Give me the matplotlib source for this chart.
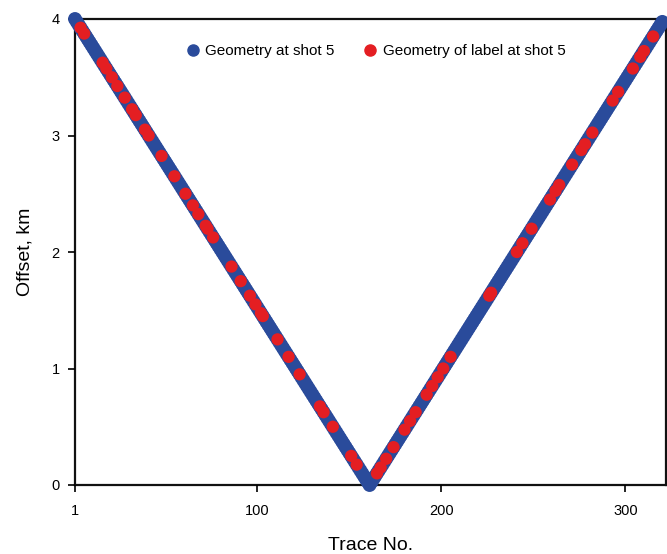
import numpy as np
import matplotlib
matplotlib.use("Agg")
import matplotlib.pyplot as plt
from matplotlib.lines import Line2D

# ---- data ----
traces = np.arange(1, 321)
# offset (m) for every trace of shot 5
offsets_m = [
    4000, 3975, 3950, 3925, 3900, 3875, 3850, 3825, 3800, 3775,
    3750, 3725, 3700, 3675, 3650, 3625, 3600, 3575, 3550, 3525,
    3500, 3475, 3450, 3425, 3400, 3375, 3350, 3325, 3300, 3275,
    3250, 3225, 3200, 3175, 3150, 3125, 3100, 3075, 3050, 3025,
    3000, 2975, 2950, 2925, 2900, 2875, 2850, 2825, 2800, 2775,
    2750, 2725, 2700, 2675, 2650, 2625, 2600, 2575, 2550, 2525,
    2500, 2475, 2450, 2425, 2400, 2375, 2350, 2325, 2300, 2275,
    2250, 2225, 2200, 2175, 2150, 2125, 2100, 2075, 2050, 2025,
    2000, 1975, 1950, 1925, 1900, 1875, 1850, 1825, 1800, 1775,
    1750, 1725, 1700, 1675, 1650, 1625, 1600, 1575, 1550, 1525,
    1500, 1475, 1450, 1425, 1400, 1375, 1350, 1325, 1300, 1275,
    1250, 1225, 1200, 1175, 1150, 1125, 1100, 1075, 1050, 1025,
    1000, 975, 950, 925, 900, 875, 850, 825, 800, 775,
    750, 725, 700, 675, 650, 625, 600, 575, 550, 525,
    500, 475, 450, 425, 400, 375, 350, 325, 300, 275,
    250, 225, 200, 175, 150, 125, 100, 75, 50, 25,
    0,
    25, 50, 75, 100, 125, 150, 175, 200, 225, 250,
    275, 300, 325, 350, 375, 400, 425, 450, 475, 500,
    525, 550, 575, 600, 625, 650, 675, 700, 725, 750,
    775, 800, 825, 850, 875, 900, 925, 950, 975, 1000,
    1025, 1050, 1075, 1100, 1125, 1150, 1175, 1200, 1225, 1250,
    1275, 1300, 1325, 1350, 1375, 1400, 1425, 1450, 1475, 1500,
    1525, 1550, 1575, 1600, 1625, 1650, 1675, 1700, 1725, 1750,
    1775, 1800, 1825, 1850, 1875, 1900, 1925, 1950, 1975, 2000,
    2025, 2050, 2075, 2100, 2125, 2150, 2175, 2200, 2225, 2250,
    2275, 2300, 2325, 2350, 2375, 2400, 2425, 2450, 2475, 2500,
    2525, 2550, 2575, 2600, 2625, 2650, 2675, 2700, 2725, 2750,
    2775, 2800, 2825, 2850, 2875, 2900, 2925, 2950, 2975, 3000,
    3025, 3050, 3075, 3100, 3125, 3150, 3175, 3200, 3225, 3250,
    3275, 3300, 3325, 3350, 3375, 3400, 3425, 3450, 3475, 3500,
    3525, 3550, 3575, 3600, 3625, 3650, 3675, 3700, 3725, 3750,
    3775, 3800, 3825, 3850, 3875, 3900, 3925, 3950, 3975,
]

label_traces = [4, 6, 16, 18, 21, 24, 28, 32, 34, 39, 41, 48, 55, 61, 65, 68,
                72, 73, 76, 86, 91, 96, 99, 102, 103, 111, 117, 123, 134, 136,
                141, 151, 154,
                165, 167, 170, 174, 180, 183, 186, 192, 195, 198, 201, 205,
                226, 227, 241, 244, 249, 259, 262, 264, 271, 276, 278, 282,
                293, 296, 304, 308, 310, 315]
label_offsets_m = [3925, 3875, 3625, 3575, 3500, 3425, 3325, 3225, 3175, 3050,
                   3000, 2825, 2650, 2500, 2400, 2325, 2225, 2200, 2125, 1875,
                   1750, 1625, 1550, 1475, 1450, 1250, 1100, 950, 675, 625,
                   500, 250, 175,
                   100, 150, 225, 325, 475, 550, 625, 775, 850, 925, 1000, 1100,
                   1625, 1650, 2000, 2075, 2200, 2450, 2525, 2575, 2750, 2875,
                   2925, 3025, 3300, 3375, 3575, 3675, 3725, 3850]

series_names = ["Geometry at shot 5", "Geometry of label at shot 5"]
x_ticks = [1, 100, 200, 300]
y_ticks = [0, 1, 2, 3, 4]

BLUE = "#2a4b9b"
RED = "#e41e22"

plt.rcParams['font.family'] = ['Liberation Sans', 'DejaVu Sans']

fig = plt.figure(figsize=(6.67, 5.54), dpi=100)
ax = fig.add_axes([75/667, (554-485)/554, 591/667, 466/554])

ax.scatter(traces, np.array(offsets_m)/1000.0, s=100, color=BLUE,
           edgecolors='none', clip_on=False, zorder=2)
ax.scatter(label_traces, np.array(label_offsets_m)/1000.0, s=78, color=RED,
           edgecolors='none', clip_on=False, zorder=3)

ax.set_xlim(1, 322)
ax.set_ylim(0, 4)
ax.set_xticks(x_ticks)
ax.set_xticklabels([str(t) for t in x_ticks])
ax.set_yticks(y_ticks)
ax.set_yticklabels([str(t) for t in y_ticks])
ax.tick_params(axis='both', direction='out', length=5, width=1.2,
               labelsize=10.5)
ax.tick_params(axis='x', pad=9)
ax.tick_params(axis='y', pad=6)
for sp in ax.spines.values():
    sp.set_linewidth(1.6)
    sp.set_color('#111111')
    sp.set_zorder(1)

ax.set_xlabel("Trace No.", fontsize=14, labelpad=13)
ax.set_ylabel("Offset, km", fontsize=14, labelpad=13)

handles = [Line2D([], [], marker='o', linestyle='none', color=BLUE, markersize=8),
           Line2D([], [], marker='o', linestyle='none', color=RED, markersize=8)]
ax.legend(handles, series_names, loc='upper center', bbox_to_anchor=(0.505, 0.975),
          ncol=2, frameon=False, fontsize=11, handletextpad=0.05,
          handlelength=1.5, columnspacing=1.6)

fig.savefig("out.png", dpi=100)
